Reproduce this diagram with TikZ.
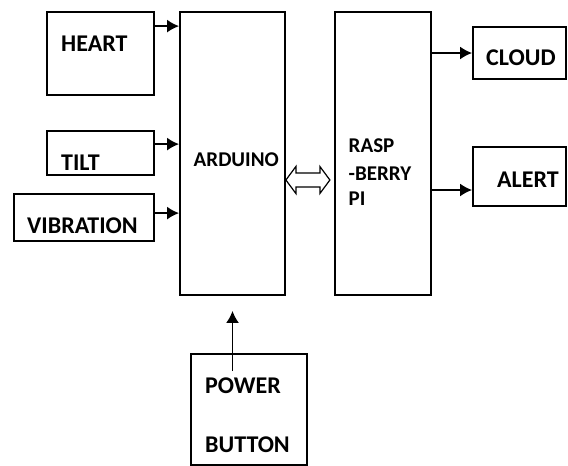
\documentclass[tikz,border=0pt]{standalone}
\usepackage{fontspec}
\setmainfont{Carlito}
\usetikzlibrary{arrows.meta,positioning,calc}

\begin{document}
\begin{tikzpicture}[x=1pt,y=-1pt,
    block/.style={draw,line width=1.8pt,inner sep=0pt},
    lbl/.style={anchor=base west,inner sep=0pt,font=\fontsize{24}{28}\selectfont\bfseries},
    lblsm/.style={anchor=base west,inner sep=0pt,font=\fontsize{21}{25}\selectfont\bfseries},
    wire/.style={-{Latex[length=12pt,width=13pt]},line width=1.8pt}]
    \useasboundingbox (0,0) rectangle (568,466);
    % blocks
    \node[block,minimum width=107pt,minimum height=83pt] (heart) at (100.5,53.5) {};
    \node[block,minimum width=107pt,minimum height=44pt] (tilt) at (100.5,153) {};
    \node[block,minimum width=140pt,minimum height=47pt] (vib) at (84,217.5) {};
    \node[block,minimum width=105pt,minimum height=283pt] (ard) at (232.5,153.5) {};
    \node[block,minimum width=96pt,minimum height=283pt] (rasp) at (383,153.5) {};
    \node[block,minimum width=93pt,minimum height=52pt] (cloud) at (519.5,53) {};
    \node[block,minimum width=93pt,minimum height=59pt] (alert) at (519.5,176.5) {};
    \node[block,minimum width=116pt,minimum height=111pt] (power) at (249,409.5) {};
    % labels
    \node[lbl] (heartT) at (61,51) {HEART};
    \node[lbl] (tiltT) at (61,170) {TILT};
    \node[lbl] (vibT) at (27,233) {VIBRATION};
    \node[lblsm] (ardT) at (193.5,166) {ARDUINO};
    \node[lblsm] (raspA) at (348.5,152) {RASP};
    \node[lblsm] (raspB) at (348.5,180) {-BERRY};
    \node[lblsm] (raspC) at (348.5,205) {PI};
    \node[lbl] (cloudT) at (486,65) {CLOUD};
    \node[lbl] (alertT) at (497,187) {ALERT};
    \node[lbl] (powerT) at (205,393) {POWER};
    \node[lbl] (buttonT) at (205,452) {BUTTON};
    % sensors into arduino
    \foreach \src/\dy in {heart/15,tilt/14,vib/20} {
      \draw[wire] ($(\src.north east)+(0,\dy)$) -- ($(\src.north east -| ard.west)+(0,\dy)$);
    }
    % outputs of the pi
    \draw[wire] (rasp.east |- cloud.west) -- (cloud.west);
    \draw[wire] ($(rasp.east |- alert.west)+(0,13.5)$) -- ($(alert.west)+(0,13.5)$);
    % power button
    \draw[wire] ($(power.north -| ard.south)+(0,18)$) -- ($(ard.south)+(0,15)$);
    % serial link
    \coordinate (lk) at ($(ard.east |- 0,180)$);
    \draw[line width=1.2pt] (lk) -- ++(10,-13.5) -- ++(0,6.5) -- ++(24,0) -- ++(0,-6.5)
      -- ++(10,13.5) -- ++(-10,13.5) -- ++(0,-6.5) -- ++(-24,0) -- ++(0,6.5) -- cycle;
\end{tikzpicture}
\end{document}
